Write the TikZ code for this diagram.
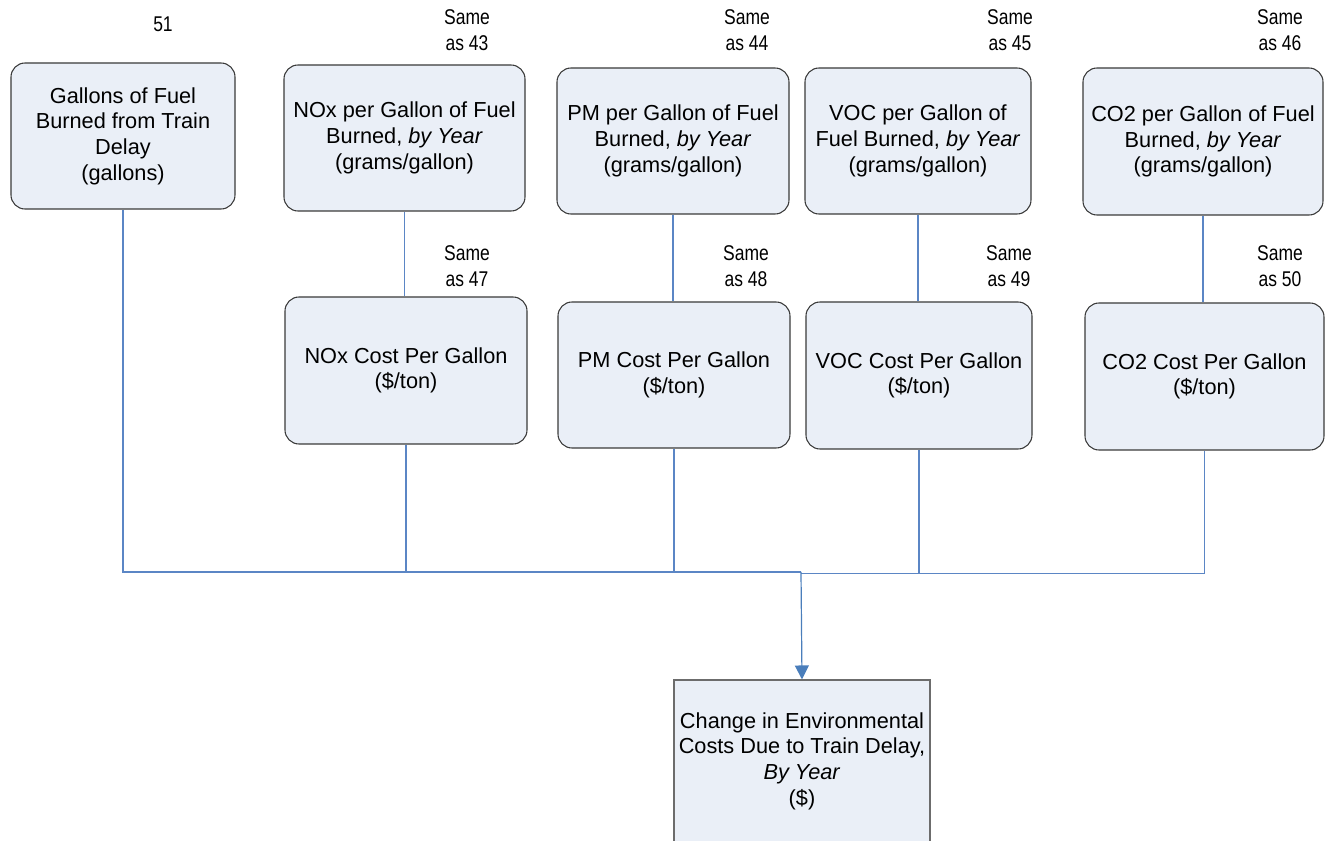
\documentclass[tikz,border=0pt]{standalone}
\usepackage{fontspec}
\setmainfont{Liberation Sans}
\newfontfamily\narrowfont[FakeStretch=0.82]{Liberation Sans}
\usetikzlibrary{arrows.meta}
\definecolor{boxfill}{HTML}{EAEFF7}
\definecolor{boxline}{HTML}{3A3A3A}
\definecolor{wirec}{HTML}{5B86C5}
\definecolor{arrowc}{HTML}{4A7EBB}
\tikzset{
  sz/.style 2 args={minimum width=#1*0.75pt, minimum height=#2*0.75pt},
  rbox/.style={draw=boxline, line width=0.8pt, fill=boxfill, rounded corners=10.5pt,
    inner sep=0pt, align=center, font=\fontsize{16.3}{19.3}\selectfont},
  sbox/.style={draw=gray!85!black, line width=0.8pt, fill=boxfill,
    inner sep=0pt, align=center, font=\fontsize{16.3}{19.3}\selectfont},
  note/.style={inner sep=0pt, align=center, font=\narrowfont\fontsize{16}{19}\selectfont},
  wire/.style={draw=wirec, line width=0.8pt},
  feed/.style={draw=arrowc, line width=0.9pt, -{Triangle[length=10.5pt,width=10.5pt]}}
}
\begin{document}
\begin{tikzpicture}[x=0.75pt,y=-0.75pt]
\useasboundingbox (0,0) rectangle (1325,841);

% input boxes, top row
\node[rbox, sz={224}{146}] (gal)  at (123,136)    {Gallons of Fuel\\Burned from Train\\Delay\\(gallons)};
\node[rbox, sz={241}{146}] (noxg) at (404.5,138)  {NOx per Gallon of Fuel\\Burned, \textit{by Year}\\(grams/gallon)};
\node[rbox, sz={232}{146}] (pmg)  at (673,141)    {PM per Gallon of Fuel\\Burned, \textit{by Year}\\(grams/gallon)};
\node[rbox, sz={226}{146}] (vocg) at (918,141)    {VOC per Gallon of\\Fuel Burned, \textit{by Year}\\(grams/gallon)};
\node[rbox, sz={240}{147}] (co2g) at (1203,141.5) {CO2 per Gallon of Fuel\\Burned, \textit{by Year}\\(grams/gallon)};

% cost boxes, second row
\node[rbox, sz={242}{147}] (noxc) at (406,370.5)  {NOx Cost Per Gallon\\(\$/ton)};
\node[rbox, sz={232}{146}] (pmc)  at (674,375)    {PM Cost Per Gallon\\(\$/ton)};
\node[rbox, sz={226}{147}] (vocc) at (919,375.5)  {VOC Cost Per Gallon\\(\$/ton)};
\node[rbox, sz={239}{147}] (co2c) at (1204.5,376.5) {CO2 Cost Per Gallon\\(\$/ton)};

% result box
\node[sbox, sz={256}{162}] (env) at (802,761) {Change in Environmental\\Costs Due to Train Delay,\\\textit{By Year}\\(\$)};

% reference notes
\node[note] (n51) at (163,24) {51};
\node[note] (n43) at (467,30) {Same\\as 43};
\node[note] (n44) at (747,30) {Same\\as 44};
\node[note] (n45) at (1010,30) {Same\\as 45};
\node[note] (n46) at (1280,30) {Same\\as 46};
\node[note] (n47) at (467,266) {Same\\as 47};
\node[note] (n48) at (746,266) {Same\\as 48};
\node[note] (n49) at (1009,266) {Same\\as 49};
\node[note] (n50) at (1280,266) {Same\\as 50};

% per-pollutant links
\draw[wire] (noxg.south) -- (noxg.south |- noxc.north);
\draw[wire] (pmg.south) -- (pmg.south |- pmc.north);
\draw[wire] (vocg.south) -- (vocg.south |- vocc.north);
\draw[wire] (co2g.south) -- (co2g.south |- co2c.north);

% collecting bus
\coordinate (busL) at (801,572);
\coordinate (busR) at (801,573.5);
\draw[wire] (gal.south) |- (busL);
\draw[wire] (noxc.south) |- (busL);
\draw[wire] (pmc.south) |- (busL);
\draw[wire] (vocc.south) |- (busR);
\draw[wire] (co2c.south) |- (busR);
\draw[feed] (busL) -- (env.north);
\end{tikzpicture}
\end{document}
